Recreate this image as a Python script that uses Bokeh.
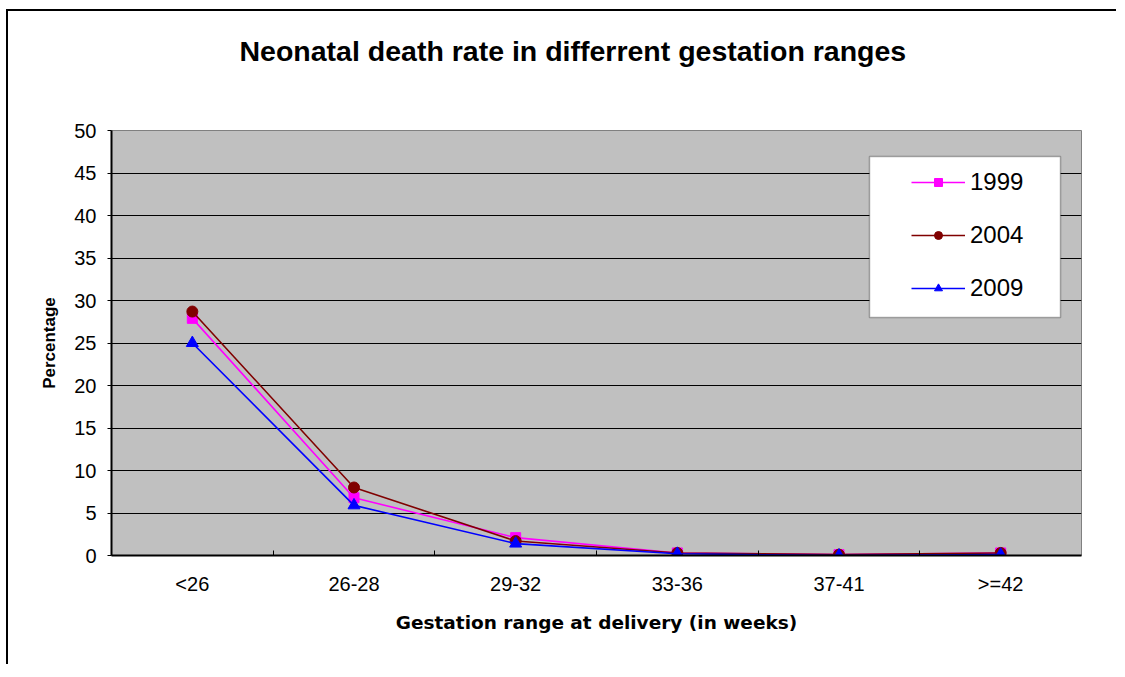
from bokeh.plotting import figure
from bokeh.models import FixedTicker, Legend, LegendItem, BoxAnnotation, Range1d, Title
from bokeh.embed import file_html
from bokeh.resources import INLINE

categories = ["<26", "26-28", "29-32", "33-36", "37-41", ">=42"]
rate_1999 = [27.9, 6.8, 2.1, 0.3, 0.1, 0.3]
rate_2004 = [28.7, 8.0, 1.7, 0.3, 0.1, 0.3]
rate_2009 = [25.0, 5.9, 1.4, 0.2, 0.0, 0.1]
y_ticks = [0, 5, 10, 15, 20, 25, 30, 35, 40, 45, 50]
series_names = ["1999", "2004", "2009"]
title_text = "Neonatal death rate in differrent gestation ranges"

FONT = "Liberation Sans"
W, H = 1110, 655

xs = [i + 0.5 for i in range(len(categories))]

p = figure(width=W, height=H, output_backend="svg", toolbar_location=None,
           title=None,
           x_range=Range1d(0, len(categories)), y_range=Range1d(0, 50),
           min_border_left=103, min_border_right=37, min_border_top=119,
           min_border_bottom=111)
p.margin = (9, 0, 0, 6)
p.styles = {"border-top": "2px solid black", "border-left": "2px solid black",
            "border-right": "none", "border-bottom": "none"}
p.background_fill_color = "#C0C0C0"
p.border_fill_color = "white"
p.outline_line_color = "#808080"
p.outline_line_width = 1

# title: spacer nearest the frame, then the title text above it
spacer = Title(text=" ", text_font_size="42px", text_color="white")
p.add_layout(spacer, "above")
main_title = Title(text=title_text, align="left", offset=128,
                   text_font=FONT, text_font_size="28.5px",
                   text_font_style="bold", text_color="black")
p.add_layout(main_title, "above")

# grid
p.xgrid.grid_line_color = None
p.ygrid.ticker = FixedTicker(ticks=y_ticks)
p.ygrid.grid_line_color = "black"
p.ygrid.grid_line_width = 1

# x axis
xa = p.xaxis[0]
xa.ticker = FixedTicker(ticks=xs, minor_ticks=list(range(1, len(categories))))
xa.major_label_overrides = {x: c for x, c in zip(xs, categories)}
xa.major_tick_in = 0
xa.major_tick_out = 0
xa.major_tick_line_color = None
xa.minor_tick_in = 5
xa.minor_tick_out = 0
xa.minor_tick_line_color = "black"
xa.minor_tick_line_width = 1
xa.axis_line_color = "black"
xa.axis_line_width = 2
xa.major_label_text_font = FONT
xa.major_label_text_font_size = "20px"
xa.major_label_text_color = "black"
xa.major_label_standoff = 17
xa.axis_label = "Gestation range at delivery (in weeks)"
xa.axis_label_text_font = "DejaVu Sans"
xa.axis_label_text_font_size = "18.5px"
xa.axis_label_text_font_style = "bold"
xa.axis_label_text_color = "black"
xa.axis_label_standoff = 14

# y axis
ya = p.yaxis[0]
ya.ticker = FixedTicker(ticks=y_ticks)
ya.major_tick_in = 0
ya.major_tick_out = 4
ya.major_tick_line_color = "black"
ya.minor_tick_line_color = None
ya.axis_line_color = "black"
ya.axis_line_width = 2
ya.major_label_text_font = FONT
ya.major_label_text_font_size = "20px"
ya.major_label_text_color = "black"
ya.major_label_standoff = 11
ya.axis_label = "Percentage"
ya.axis_label_text_font = FONT
ya.axis_label_text_font_size = "17px"
ya.axis_label_text_font_style = "bold"
ya.axis_label_text_color = "black"
ya.axis_label_standoff = 12

# series
specs = [
    (rate_1999, "#FF00FF", "square", 10),
    (rate_2004, "#800000", "circle", 11),
    (rate_2009, "#0000FF", "triangle", 12),
]
items = []
for name, (vals, col, mk, sz) in zip(series_names, specs):
    ln = p.line(xs, vals, line_color=col, line_width=1.6)
    sc = p.scatter(xs, vals, marker=mk, size=sz, fill_color=col, line_color=col)
    items.append(LegendItem(label=name, renderers=[ln, sc]))

# legend frame
lbox = BoxAnnotation(left=859, right=1050, top=143, bottom=304,
                     left_units="canvas", right_units="canvas",
                     top_units="canvas", bottom_units="canvas",
                     fill_color="white", fill_alpha=1,
                     line_color="black", line_width=1.5)
p.add_layout(lbox)

legend = Legend(items=items, location=(800, 253), padding=0, margin=0,
                spacing=25, glyph_width=54, glyph_height=20, label_height=20,
                label_standoff=5, label_text_font=FONT,
                label_text_font_size="24px", label_text_color="black",
                background_fill_alpha=0, border_line_alpha=0)
p.add_layout(legend)

open("out.html", "w").write(file_html(p, INLINE))
